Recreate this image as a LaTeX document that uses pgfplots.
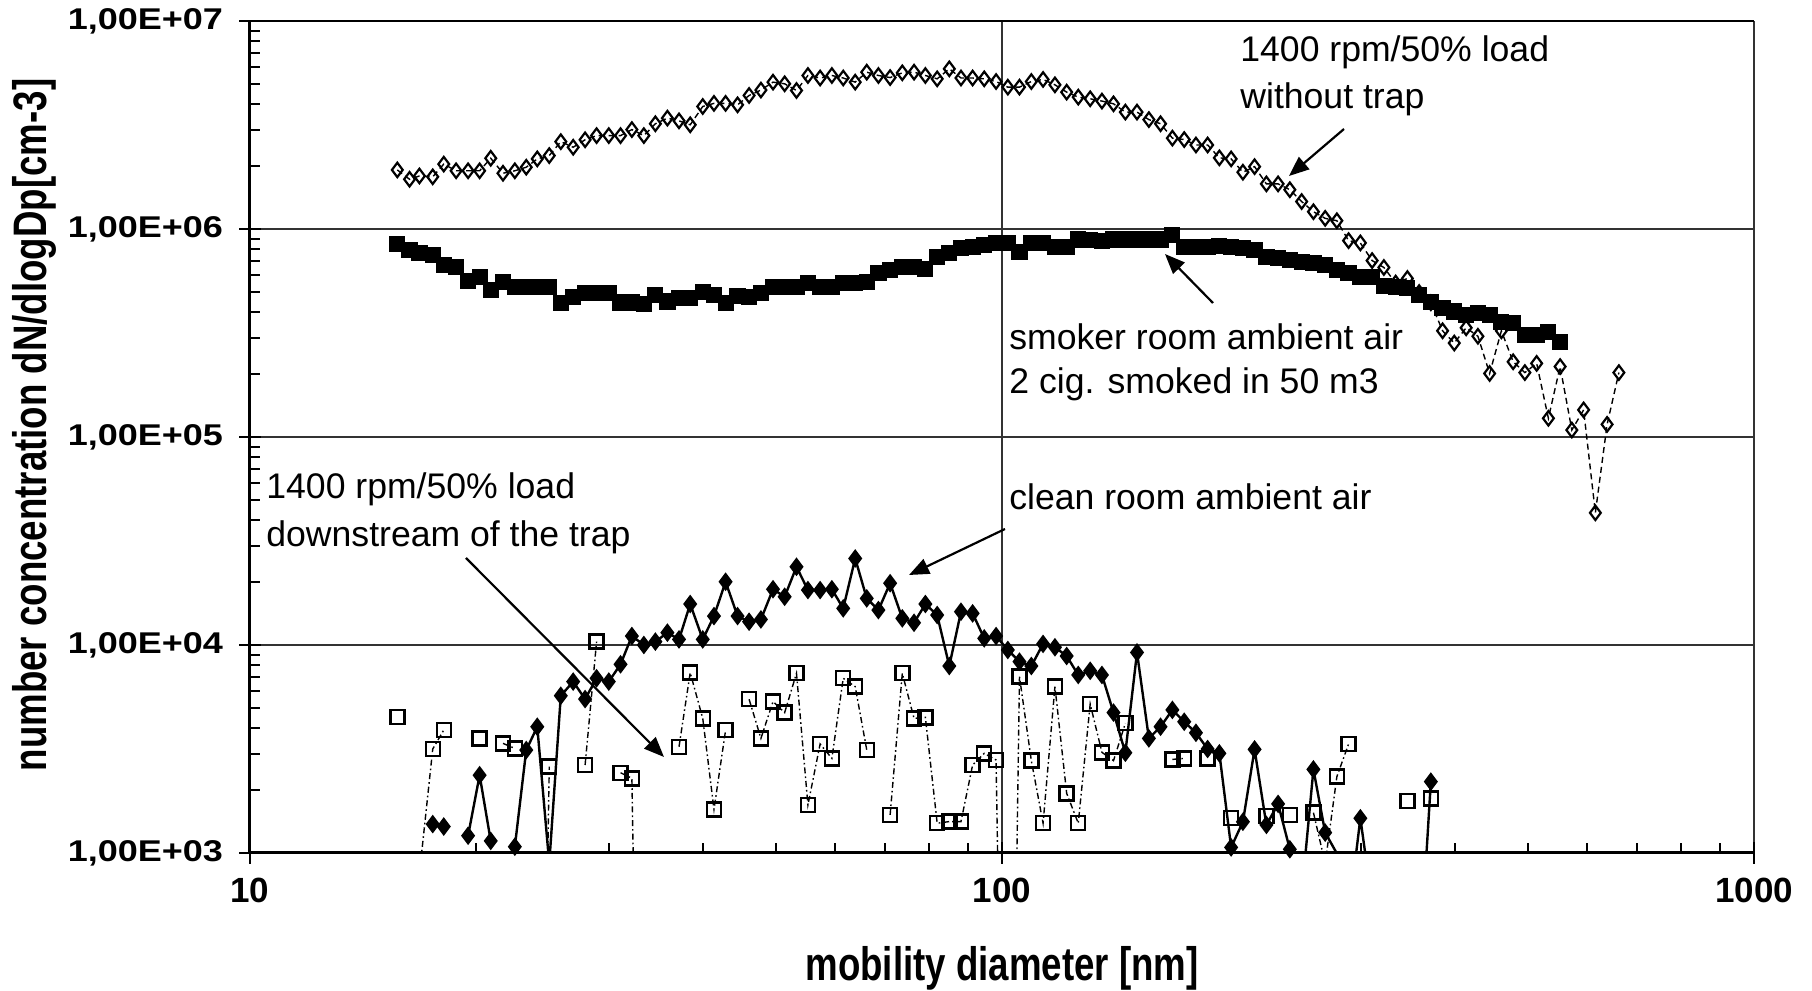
\documentclass[border=0pt]{standalone}
\usepackage{fontspec}
\setmainfont{Liberation Sans}
\newfontfamily\ytickfont[FakeStretch=1.2]{Liberation Sans}
\newfontfamily\labfont[FakeStretch=0.78]{Liberation Sans}
\usepackage{pgfplots}
\pgfplotsset{compat=1.18}
\usepackage{pgfplotstable}
\usetikzlibrary{arrows.meta}

\pgfplotstableread{
x without smoker clean down
15.7 1.923e6 8.47e5 nan 4519
16.3 1.734e6 7.93e5 nan nan
16.8 1.799e6 7.69e5 nan 794
17.5 1.782e6 7.50e5 1377 3162
18.1 2.051e6 6.71e5 1340 3899
18.8 1.905e6 6.59e5 nan nan
19.5 1.905e6 5.64e5 1211 nan
20.2 1.905e6 5.90e5 2366 3556
20.9 2.188e6 5.09e5 1143 nan
21.7 1.854e6 5.58e5 nan 3365
22.5 1.905e6 5.28e5 1072 3184
23.3 1.982e6 5.28e5 3126 nan
24.1 2.173e6 5.28e5 4046 1
25.0 2.254e6 5.28e5 891 2600
25.9 2.630e6 4.40e5 5702 nan
26.9 2.472e6 4.73e5 6668 nan
27.9 2.685e6 4.91e5 5495 2649
28.9 2.812e6 4.91e5 6918 10380
30.0 2.812e6 4.91e5 6668 nan
31.1 2.812e6 4.43e5 8072 2432
32.2 3.006e6 4.43e5 11040 2286
33.4 2.812e6 4.36e5 10000 1
34.6 3.206e6 4.82e5 10380 nan
35.9 3.412e6 4.48e5 11460 nan
37.2 3.311e6 4.65e5 10640 3243
38.5 3.170e6 4.65e5 15740 7362
40.0 3.882e6 5.00e5 10640 4436
41.4 4.018e6 4.82e5 13770 1622
42.9 4.018e6 4.40e5 20140 3899
44.5 3.954e6 4.76e5 13770 nan
46.1 4.385e6 4.69e5 12940 5483
47.8 4.656e6 4.91e5 13270 3556
49.6 5.082e6 5.25e5 18540 5346
51.4 4.989e6 5.25e5 17060 4732
53.3 4.634e6 5.25e5 23770 7311
55.2 5.470e6 5.48e5 18370 1702
57.3 5.321e6 5.28e5 18370 3342
59.4 5.470e6 5.28e5 18540 2851
61.5 5.321e6 5.52e5 15000 6918
63.8 5.082e6 5.52e5 26060 6310
66.1 5.675e6 5.58e5 16750 3126
68.5 5.470e6 6.12e5 14720 nan
71.0 5.346e6 6.35e5 19820 1524
73.7 5.636e6 6.59e5 13430 7311
76.4 5.675e6 6.59e5 12790 4436
79.1 5.470e6 6.40e5 15740 4487
82.0 5.272e6 7.36e5 13930 1390
85.1 5.888e6 7.69e5 7925 1416
88.2 5.321e6 8.07e5 14450 1416
91.4 5.321e6 8.22e5 14190 2649
94.7 5.272e6 8.38e5 10760 3013
98.2 5.117e6 8.53e5 11040 2799
101.8 4.808e6 8.59e5 9462 1
105.5 4.808e6 7.78e5 8318 7047
109.4 5.117e6 8.53e5 7925 2780
113.4 5.236e6 8.59e5 10120 1390
117.6 4.932e6 8.22e5 9750 6310
121.9 4.550e6 8.22e5 8851 1936
126.3 4.305e6 8.91e5 7178 1390
131.0 4.227e6 8.85e5 7516 5200
135.8 4.121e6 8.79e5 7178 3048
140.7 3.999e6 8.91e5 4732 2780
145.9 3.648e6 8.91e5 3034 4207
151.2 3.648e6 8.91e5 9204 nan
156.8 3.357e6 8.91e5 3556 nan
162.5 3.206e6 8.91e5 4046 nan
168.5 2.735e6 9.35e5 4875 2818
174.7 2.692e6 8.22e5 4276 2851
181.1 2.535e6 8.22e5 3784 nan
187.7 2.535e6 8.22e5 3162 2851
194.6 2.198e6 8.28e5 3013 nan
201.7 2.173e6 8.22e5 1064 1469
209.1 1.875e6 8.07e5 1413 nan
216.7 1.995e6 7.93e5 3148 nan
224.7 1.648e6 7.36e5 1365 1507
232.9 1.648e6 7.23e5 1722 nan
241.4 1.545e6 7.10e5 1042 1524
250.3 1.355e6 6.97e5 631 nan
259.5 1.211e6 6.84e5 2523 1563
269.0 1.125e6 6.71e5 1253 891
278.8 1.096e6 6.35e5 995 2328
289.0 8.79e5 6.12e5 501 3342
299.6 8.57e5 5.90e5 1469 nan
310.6 7.05e5 5.90e5 575 nan
322.0 6.53e5 5.32e5 nan nan
333.8 5.50e5 5.28e5 nan nan
346.0 5.78e5 5.19e5 nan 1778
358.7 4.95e5 4.82e5 263 nan
371.8 4.42e5 4.47e5 2203 1832
385.4 3.24e5 4.16e5 nan nan
399.5 2.83e5 4.01e5 nan nan
414.2 3.35e5 3.86e5 nan nan
429.4 3.05e5 3.94e5 nan nan
445.1 2.02e5 3.86e5 nan nan
461.4 3.24e5 3.58e5 nan nan
478.3 2.30e5 3.52e5 nan nan
495.8 2.04e5 3.09e5 nan nan
514.0 2.26e5 3.09e5 nan nan
532.8 1.23e5 3.21e5 nan nan
552.3 2.18e5 2.87e5 nan nan
572.5 1.08e5 nan nan nan
593.5 1.35e5 nan nan nan
615.3 4.32e4 nan nan nan
637.8 1.15e5 nan nan nan
661.2 2.04e5 nan nan nan
}\data

\begin{document}
\begin{tikzpicture}
\begin{axis}[name=ax, at={(0,0)}, anchor=south west,
  scale only axis, width=752pt, height=416pt,
  xmode=log, ymode=log, xmin=10, xmax=1000, ymin=1e3, ymax=1e7,
  axis line style={draw=none},
  xtick={10,100,1000}, xticklabels={10,100,1000},
  minor xtick={20,30,40,50,60,70,80,90,200,300,400,500,600,700,800,900},
  ytick={1e3,1e4,1e5,1e6,1e7},
  yticklabels={{1,00E+03},{1,00E+04},{1,00E+05},{1,00E+06},{1,00E+07}},
  minor ytick={2e3,3e3,4e3,5e3,6e3,7e3,8e3,9e3,2e4,3e4,4e4,5e4,6e4,7e4,8e4,9e4,2e5,3e5,4e5,5e5,6e5,7e5,8e5,9e5,2e6,3e6,4e6,5e6,6e6,7e6,8e6,9e6},
  xtick pos=left, ytick pos=left,
  tick align=inside, major tick length=11pt, minor tick length=5pt,
  tick style={line width=1pt, black},
  every major y tick/.append style={xshift=-5.5pt},
  every major x tick/.append style={yshift=-5.5pt},
  grid=major, minor grid style={draw=none},
  major grid style={line width=0.55pt, black!80},
  yticklabel style={font=\ytickfont\bfseries\fontsize{15}{17}\selectfont, xshift=-10pt},
  xticklabel style={font=\bfseries\fontsize{17.5}{20}\selectfont, yshift=-9pt},
  unbounded coords=jump,
]
\addplot[black, line width=0.5pt, mark=square*, mark size=3.8pt, mark options={solid}]
  table[x=x, y=smoker] {\data};
\addplot[black, line width=0.7pt, dash pattern=on 3pt off 2pt, mark=diamond, mark size=3.6pt,
  mark options={solid, fill=white, line width=1.1pt}]
  table[x=x, y=without] {\data};
\addplot[black, line width=1.2pt, mark=diamond*, mark size=3.7pt, mark options={solid}]
  table[x=x, y=clean] {\data};
\addplot[black, line width=0.7pt, dash pattern=on 3pt off 1.5pt on 0.8pt off 1.5pt, mark=square, mark size=3.5pt,
  mark options={solid, fill=white, line width=1.2pt}]
  table[x=x, y=down] {\data};
\end{axis}
% axis frame
\draw[line width=1.5pt] (0,416pt) -- (0,0) -- (752pt,0);
\draw[line width=1.4pt] (0,416pt) -- (752pt,416pt);
% axis titles
\node[font=\labfont\bfseries\fontsize{23.5}{26}\selectfont] at (376pt,-57.5pt) {mobility diameter [nm]};
\node[font=\labfont\bfseries\fontsize{23.5}{26}\selectfont, rotate=90] at (-108pt,214pt) {number concentration dN/dlogDp[cm-3]};
% annotations
\begin{scope}[every node/.style={inner sep=0pt, anchor=west, font=\fontsize{17.8}{20}\selectfont}]
\node at (495pt,400.5pt) {1400 rpm/50\% load};
\node at (495pt,377pt) {without trap};
\node at (379.5pt,258pt) {smoker room ambient air};
\node at (379.5pt,234.5pt) {2 cig. smoked in 50 m3};
\node at (379.5pt,178pt) {clean room ambient air};
\node at (8pt,182pt) {1400 rpm/50\% load};
\node at (8pt,158pt) {downstream of the trap};
\end{scope}
\begin{scope}[line width=1.1pt, -{Triangle[length=10pt,width=8pt]}]
\draw (547pt,362pt) -- (519.5pt,338.5pt);
\draw (481.5pt,275pt) -- (457.5pt,299.5pt);
\draw (377.5pt,162pt) -- (329.5pt,139pt);
\draw (108pt,147.5pt) -- (207pt,48pt);
\end{scope}
\pgfresetboundingbox
\useasboundingbox (-125pt,-69pt) rectangle (781pt,426.5pt);
\end{tikzpicture}
\end{document}
